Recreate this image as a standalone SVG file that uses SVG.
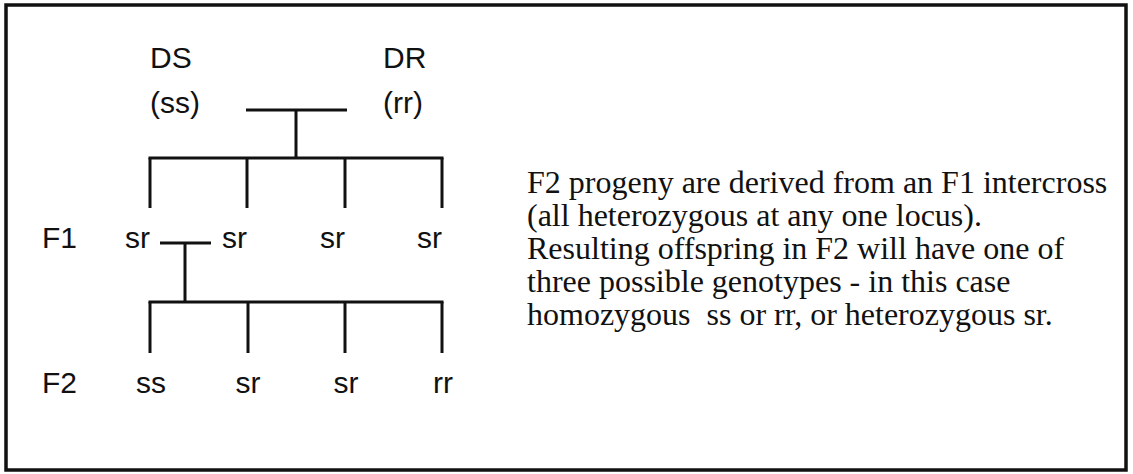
<svg xmlns="http://www.w3.org/2000/svg" width="1133" height="474" viewBox="0 0 1133 474">
  <style>
    .frame { fill: #ffffff; stroke: #111111; stroke-width: 3.5; }
    .lbl { font-family: "Liberation Sans", Arial, Helvetica, sans-serif; font-size: 30px; fill: #111111; }
    .note { font-family: "Liberation Serif", "Times New Roman", serif; font-size: 32px; fill: #111111; }
    .link { stroke: #111111; stroke-width: 3; fill: none; stroke-linecap: butt; }
  </style>

  <rect width="1133" height="474" fill="#ffffff"/>
  <rect class="frame" x="6" y="5" width="1120" height="465"/>

  <!-- parent strains -->
  <g id="parent-ds">
    <text class="lbl" x="150" y="68">DS</text>
    <text class="lbl" x="150" y="113">(ss)</text>
  </g>
  <g id="parent-dr">
    <text class="lbl" x="383" y="68">DR</text>
    <text class="lbl" x="383" y="113">(rr)</text>
  </g>

  <!-- generation labels -->
  <g id="gen-f1"><text class="lbl" x="42" y="248">F1</text></g>
  <g id="gen-f2"><text class="lbl" x="42" y="393">F2</text></g>

  <!-- F1 offspring -->
  <g id="f1-a"><text class="lbl" x="125" y="248">sr</text></g>
  <g id="f1-b"><text class="lbl" x="222" y="248">sr</text></g>
  <g id="f1-c"><text class="lbl" x="320" y="248">sr</text></g>
  <g id="f1-d"><text class="lbl" x="417" y="248">sr</text></g>

  <!-- F2 offspring -->
  <g id="f2-a"><text class="lbl" x="151" y="393" text-anchor="middle">ss</text></g>
  <g id="f2-b"><text class="lbl" x="248" y="393" text-anchor="middle">sr</text></g>
  <g id="f2-c"><text class="lbl" x="346" y="393" text-anchor="middle">sr</text></g>
  <g id="f2-d"><text class="lbl" x="443" y="393" text-anchor="middle">rr</text></g>

  <!-- explanatory note -->
  <g id="note">
    <text class="note" x="527" y="193">F2 progeny are derived from an F1 intercross</text>
    <text class="note" x="527" y="226">(all heterozygous at any one locus).</text>
    <text class="note" x="527" y="259">Resulting offspring in F2 will have one of</text>
    <text class="note" x="527" y="292">three possible genotypes - in this case</text>
    <text class="note" x="527" y="325" xml:space="preserve">homozygous  ss or rr, or heterozygous sr.</text>
  </g>

  <!-- pedigree connectors -->
  <g id="connectors" class="link">
    <line x1="246" y1="110" x2="347" y2="110"/>
    <line x1="296" y1="110" x2="296" y2="158"/>
    <line x1="148.5" y1="158" x2="443.5" y2="158"/>
    <line x1="150" y1="158" x2="150" y2="208"/>
    <line x1="247" y1="158" x2="247" y2="208"/>
    <line x1="345" y1="158" x2="345" y2="208"/>
    <line x1="442" y1="158" x2="442" y2="208"/>
    <line x1="160" y1="243" x2="211" y2="243"/>
    <line x1="185" y1="243" x2="185" y2="302"/>
    <line x1="148.5" y1="302" x2="443.5" y2="302"/>
    <line x1="150" y1="302" x2="150" y2="353"/>
    <line x1="248" y1="302" x2="248" y2="353"/>
    <line x1="345" y1="302" x2="345" y2="353"/>
    <line x1="442" y1="302" x2="442" y2="353"/>
  </g>
</svg>
